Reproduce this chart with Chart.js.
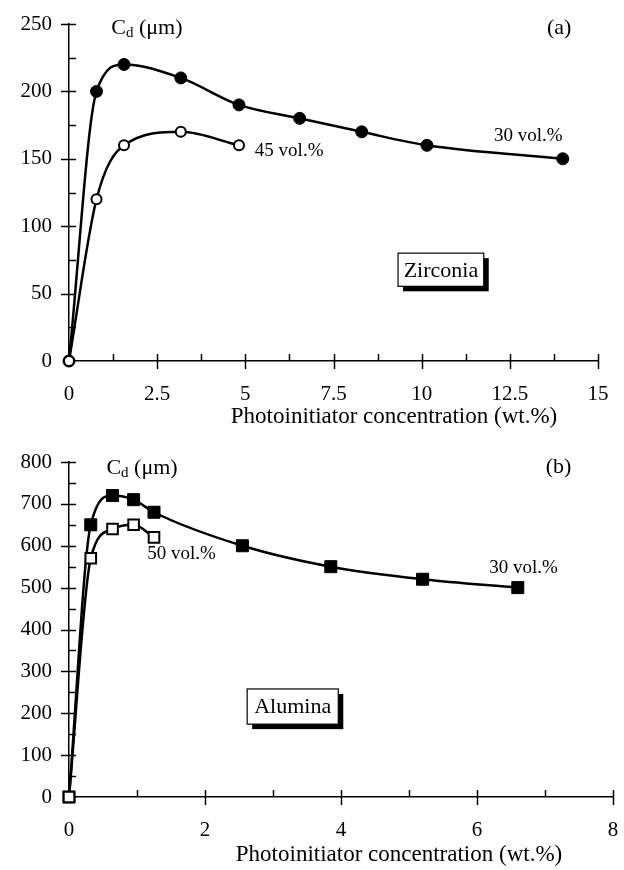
<!DOCTYPE html>
<html>
<head>
<meta charset="utf-8">
<script src="https://cdn.jsdelivr.net/npm/chart.js@4.4.0/dist/chart.umd.min.js"></script>
<style>
html,body{margin:0;padding:0;background:#fff;}
.box{position:relative;width:624px;height:435px;}
</style>
</head>
<body>
<div class="box"><canvas id="zr"></canvas></div>
<div class="box"><canvas id="al"></canvas></div>
<script>
// (a) zirconia
const zrX30=[0,0.78,1.56,3.17,4.82,6.54,8.3,10.15,14];
const zrY30=[0,200,220,210,190,180,170,160,150];
const zrX45=[0,0.78,1.56,3.17,4.82];
const zrY45=[0,120,160,170,160];
// (b) alumina
const alX30=[0,0.32,0.64,0.95,1.25,2.55,3.85,5.2,6.6];
const alY30=[0,650,720,710,680,600,550,520,500];
const alX50=[0,0.32,0.64,0.95,1.25];
const alY50=[0,570,640,650,620];

const xTitle="Photoinitiator concentration (wt.%)";
const SERIF="'Liberation Serif','Times New Roman',serif";

const pts=(xs,ys)=>xs.map((v,i)=>({x:v,y:ys[i]}));

// tick marks, labels, boxes
const notes={id:"notes",afterDraw(c,a,o){
 const ctx=c.ctx,x=c.scales.x,y=c.scales.y,ca=c.chartArea;
 ctx.save();
 ctx.strokeStyle="#000";ctx.lineWidth=1.5;ctx.beginPath();
 const xt=x.ticks.map(t=>t.value),yt=y.ticks.map(t=>t.value);
 const xs=xt[1]-xt[0],ys=yt[1]-yt[0];
 xt.forEach(v=>{
   const p=Math.round(x.getPixelForValue(v))+0.5;
   if(v>0){ctx.moveTo(p,ca.bottom-7);ctx.lineTo(p,ca.bottom+8);}
   if(v+xs/2<=x.max){const q=Math.round(x.getPixelForValue(v+xs/2))+0.5;ctx.moveTo(q,ca.bottom-7);ctx.lineTo(q,ca.bottom);}
 });
 yt.forEach(v=>{
   const p=Math.round(y.getPixelForValue(v))+0.5;
   if(v>0){ctx.moveTo(ca.left-8,p);ctx.lineTo(ca.left+7,p);}
   if(v+ys/2<=y.max){const q=Math.round(y.getPixelForValue(v+ys/2))+0.5;ctx.moveTo(ca.left,q);ctx.lineTo(ca.left+7,q);}
 });
 ctx.stroke();

 ctx.fillStyle="#000";ctx.textBaseline="middle";
 // plain labels
 o.texts.forEach(t=>{
   ctx.font=t.size+"px "+SERIF;ctx.textAlign=t.align||"left";
   ctx.fillText(t.t,x.getPixelForValue(t.x),y.getPixelForValue(t.y));
 });
 // C_d (um)
 let cx=x.getPixelForValue(o.cd.x),cy=y.getPixelForValue(o.cd.y);
 ctx.textAlign="left";
 ctx.font="22px "+SERIF;ctx.fillText("C",cx,cy);cx+=ctx.measureText("C").width;
 ctx.font="15px "+SERIF;ctx.fillText("d",cx,cy+5);cx+=ctx.measureText("d").width;
 ctx.font="22px "+SERIF;ctx.fillText(" (μm)",cx,cy);
 // framed label with shadow
 const b=o.box,bx1=x.getPixelForValue(b.x1),bx2=x.getPixelForValue(b.x2),by1=y.getPixelForValue(b.y1),by2=y.getPixelForValue(b.y2);
 ctx.fillRect(bx1+5,by1+5,bx2-bx1,by2-by1);
 ctx.fillStyle="#fff";ctx.fillRect(bx1,by1,bx2-bx1,by2-by1);
 ctx.lineWidth=1.2;ctx.strokeRect(bx1,by1,bx2-bx1,by2-by1);
 ctx.fillStyle="#000";ctx.font="22px "+SERIF;ctx.textAlign="center";
 ctx.fillText(b.t,(bx1+bx2)/2,(by1+by2)/2+1);
 // x axis title
 ctx.font="23px "+SERIF;
 ctx.fillText(xTitle,o.title.x,ca.bottom+o.title.dy);
 ctx.restore();
}};

function axes(xmax,xstep,ymax,ystep,xh,yw){
 const tf={family:SERIF,size:21};
 return {
  x:{type:"linear",min:0,max:xmax,ticks:{stepSize:xstep,font:tf,color:"#000",padding:21,maxRotation:0},
     grid:{display:false,drawTicks:false},border:{color:"#000",width:1.5},
     afterFit(s){s.height=xh;s.paddingLeft=0;s.paddingRight=0;}},
  y:{type:"linear",min:0,max:ymax,ticks:{stepSize:ystep,font:tf,color:"#000",padding:17},
     grid:{display:false,drawTicks:false},border:{color:"#000",width:1.5},
     afterFit(s){s.width=yw;s.paddingTop=0;s.paddingBottom=0;}}
 };
}

function series(d,filled,style,r){
 return {data:d,borderColor:"#000",borderWidth:2.5,cubicInterpolationMode:"monotone",fill:false,clip:false,
  pointStyle:style,pointRadius:r,pointBorderColor:"#000",pointBorderWidth:filled?1:2,
  pointBackgroundColor:filled?"#000":"#fff"};
}

new Chart(document.getElementById("zr"),{
 type:"line",
 data:{datasets:[series(pts(zrX45,zrY45),false,"circle",5),series(pts(zrX30,zrY30),true,"circle",6)]},
 options:{responsive:true,maintainAspectRatio:false,animation:false,
  layout:{padding:{left:0,right:26,top:24,bottom:0}},
  scales:axes(15,2.5,250,50,74,69),
  plugins:{legend:{display:false},tooltip:{enabled:false},
   notes:{texts:[{t:"45 vol.%",x:5.27,y:156,size:19},{t:"30 vol.%",x:12.05,y:167,size:19},{t:"(a)",x:13.9,y:247,size:22,align:"center"}],
    cd:{x:1.2,y:247},box:{x1:9.33,x2:11.76,y1:80,y2:55.4,t:"Zirconia"},title:{x:394,dy:56}}}
 },
 plugins:[notes]
});

new Chart(document.getElementById("al"),{
 type:"line",
 data:{datasets:[series(pts(alX50,alY50),false,"rect",7.5),series(pts(alX30,alY30),true,"rect",8.5)]},
 options:{responsive:true,maintainAspectRatio:false,animation:false,
  layout:{padding:{left:0,right:11,top:27,bottom:0}},
  scales:axes(8,2,800,100,73,69),
  plugins:{legend:{display:false},tooltip:{enabled:false},
   notes:{texts:[{t:"50 vol.%",x:1.15,y:580,size:19},{t:"30 vol.%",x:6.18,y:548,size:19},{t:"(b)",x:7.2,y:787,size:22,align:"center"}],
    cd:{x:0.55,y:785},box:{x1:2.62,x2:3.96,y1:258,y2:174,t:"Alumina"},title:{x:399,dy:58}}}
 },
 plugins:[notes]
});
</script>
</body>
</html>
